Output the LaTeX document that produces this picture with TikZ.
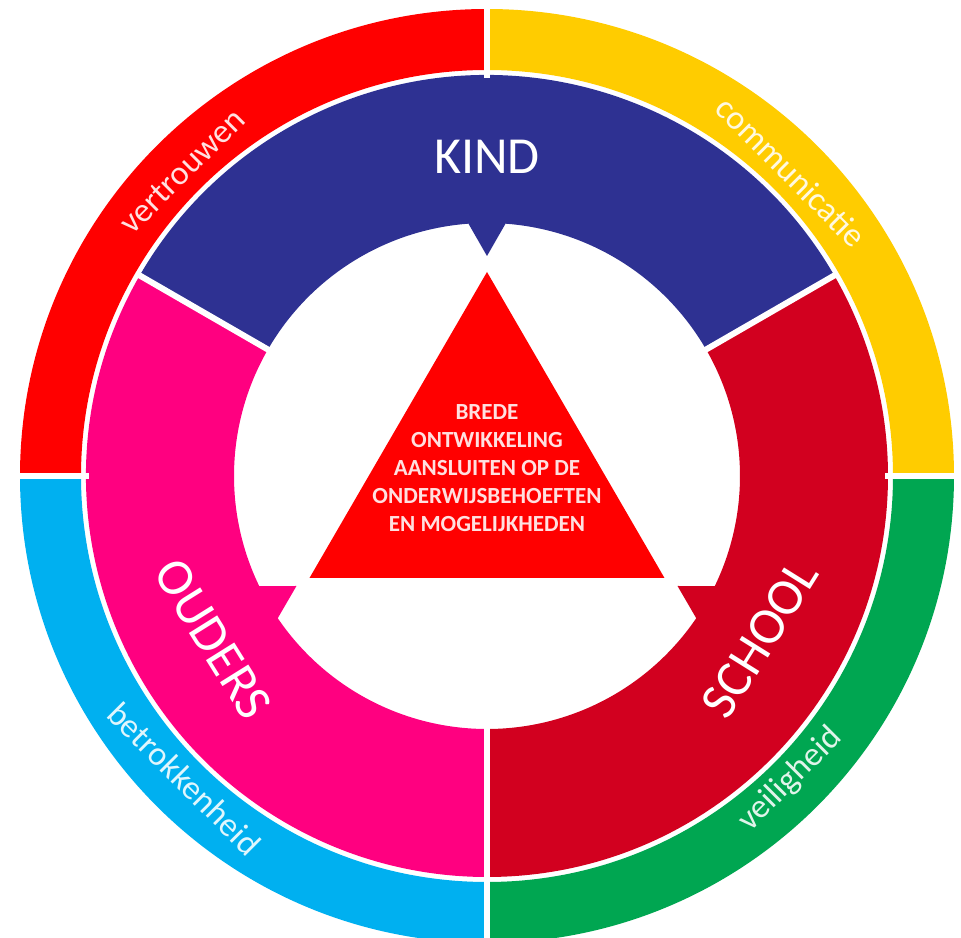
\documentclass[tikz,border=0pt]{standalone}
\usepackage{fontspec}
\setmainfont{Carlito}
\definecolor{cred}{HTML}{FF0000}
\definecolor{cyel}{HTML}{FFCC00}
\definecolor{cblue}{HTML}{00B0F0}
\definecolor{cgreen}{HTML}{00A651}
\definecolor{cnavy}{HTML}{2E3192}
\definecolor{cpink}{HTML}{FF0080}
\definecolor{ccrim}{HTML}{D2001F}
\definecolor{ctri}{HTML}{FF0000}
\begin{document}
\begin{tikzpicture}[x=0.75pt,y=0.75pt,
  gap/.style={draw=white,line width=4.5pt},
  bigword/.style={text=white,font=\fontsize{39}{47}\selectfont,inner sep=0pt},
  ringword/.style={font=\fontsize{25.5}{30}\selectfont,inner sep=0pt}]
\useasboundingbox (-487,-462) rectangle (474,476);
\fill[white] (-487,-462) rectangle (474,476);
% outer ring
\foreach \a/\c in {0/cyel,90/cred,180/cblue,270/cgreen}{
  \fill[\c] (\a:467) arc[start angle=\a, delta angle=90, radius=467]
    -- ({\a+90}:406) arc[start angle={\a+90}, delta angle=-90, radius=406] -- cycle;
}
% middle ring with inward teeth
\foreach \a/\c in {30/cnavy,150/cpink,270/ccrim}{
  \pgfmathsetmacro\m{\a+60}
  \fill[\c] (\a:401) arc[start angle=\a, delta angle=120, radius=401]
    -- ({\a+120}:253) arc[start angle={\a+120}, end angle={\m+4.2}, radius=253]
    -- (\m:220) -- ({\m-4.2}:253)
    arc[start angle={\m-4.2}, end angle=\a, radius=253] -- cycle;
}
% white separators
\foreach \a in {0,90,180} \draw[gap] (\a:398) -- (\a:472);
\draw[gap] (270:240) -- (270:472);
\foreach \a in {30,150} \draw[gap] (\a:240) -- (\a:404);
% central triangle
\fill[ctri] (0,204) -- (-177.5,-102) -- (177.5,-102) -- cycle;
\node[text=white!88!ctri, align=center, inner sep=0pt,
      font=\bfseries\fontsize{17.3}{21}\selectfont] (core) at (0,7.5)
  {BREDE\\ONTWIKKELING\\AANSLUITEN OP DE\\ONDERWIJSBEHOEFTEN\\EN MOGELIJKHEDEN};
% middle ring words
\node[bigword] (kind) at (0,319) {KIND};
\node[bigword, rotate=-58] (ouders) at (-274,-163) {OUDERS};
\node[bigword, rotate=58] (school) at (273,-163) {SCHOOL};
% outer ring words
\node[ringword, text=white!88!cred, rotate=45] (vertrouwen) at (135:431) {vertrouwen};
\node[ringword, text=white!88!cyel, rotate=-45] (communicatie) at (45:430) {communicatie};
\node[ringword, text=white!88!cblue, rotate=-45] (betrokkenheid) at (225:428) {betrokkenheid};
\node[ringword, text=white!88!cgreen, rotate=45] (veiligheid) at (-45:429) {veiligheid};
\end{tikzpicture}
\end{document}
